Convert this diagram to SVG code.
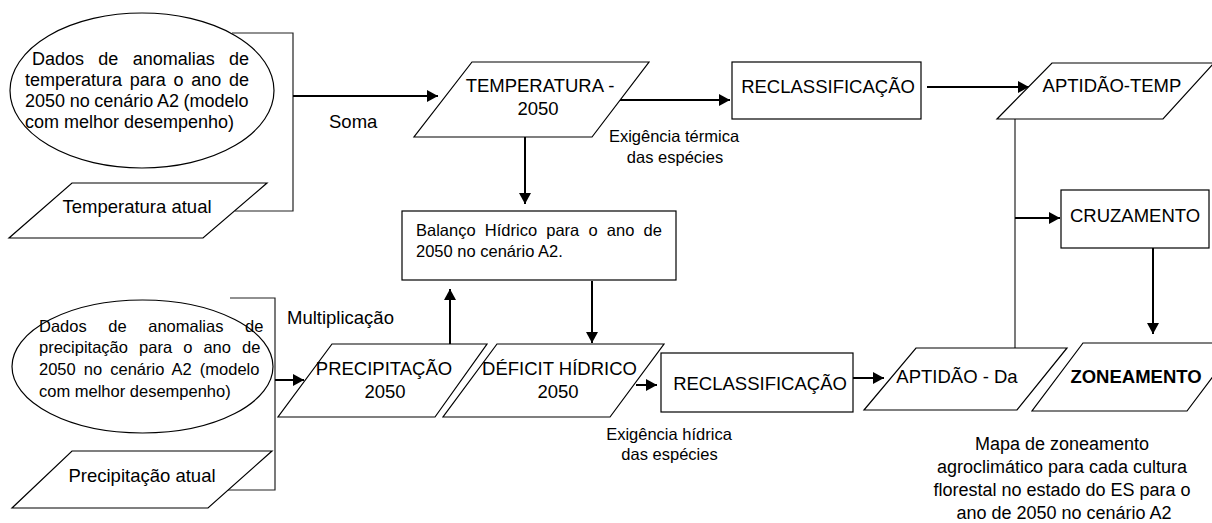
<svg xmlns="http://www.w3.org/2000/svg" width="1212" height="523" viewBox="0 0 1212 523">
<style>
.shape{fill:#fff;stroke:#000;stroke-width:1.2}
.conn{fill:none;stroke:#000;stroke-width:2}
.thin{fill:none;stroke:#222;stroke-width:1.2}
text{font-family:"Liberation Sans",Arial,sans-serif;fill:#000}
.big{font-size:18.5px}
.mid{font-size:18px}
.sm{font-size:16.5px}
.c{text-anchor:middle}
.b{font-weight:bold}
</style>
<defs>
<marker id="ah" markerWidth="11" markerHeight="12" refX="11" refY="6" orient="auto" markerUnits="userSpaceOnUse">
<path d="M0,0 L11,6 L0,12 z" fill="#000"/>
</marker>
</defs>
<rect width="1212" height="523" fill="#fff"/>

<g id="connectors">
<polyline class="thin" points="232,33 293,33 293,211 235,211"/>
<line class="conn" x1="293" y1="96" x2="438" y2="96" marker-end="url(#ah)"/>
<polyline class="thin" points="230,298 275,298 275,490 228,490"/>
<line class="conn" x1="275" y1="380" x2="304" y2="380" marker-end="url(#ah)"/>
<line class="conn" x1="525" y1="137" x2="525" y2="204" marker-end="url(#ah)"/>
<line class="conn" x1="450" y1="344" x2="450" y2="289" marker-end="url(#ah)"/>
<line class="conn" x1="592" y1="281" x2="592" y2="343" marker-end="url(#ah)"/>
<line class="conn" x1="618" y1="100" x2="730" y2="100" marker-end="url(#ah)"/>
<line class="conn" x1="927" y1="87" x2="1029" y2="87" marker-end="url(#ah)"/>
<line class="conn" x1="636" y1="385" x2="657" y2="385" marker-end="url(#ah)"/>
<line class="conn" x1="853" y1="378" x2="884" y2="378" marker-end="url(#ah)"/>
<line class="thin" x1="1015" y1="119" x2="1015" y2="350"/>
<line class="conn" x1="1015" y1="218" x2="1060" y2="218" marker-end="url(#ah)"/>
<line class="conn" x1="1153" y1="245" x2="1153" y2="334" marker-end="url(#ah)"/>
</g>

<g id="lbl-soma"><text class="big" x="329" y="128">Soma</text></g>
<g id="lbl-mult"><text class="big" x="287" y="324">Multiplicação</text></g>
<g id="lbl-termica">
<text class="sm c" x="674" y="142">Exigência térmica</text>
<text class="sm c" x="675" y="163">das espécies</text>
</g>
<g id="lbl-hidrica">
<text class="sm c" x="669" y="440">Exigência hídrica</text>
<text class="sm c" x="669.5" y="460">das espécies</text>
</g>

<g id="anom-temp">
<ellipse class="shape" cx="142" cy="90.5" rx="132" ry="77.5"/>
<text class="mid" x="32" y="65" word-spacing="9.3">Dados de anomalias de</text>
<text class="mid" x="25" y="86" word-spacing="2.7">temperatura para o ano de</text>
<text class="mid" x="25" y="107" word-spacing="-0.4">2050 no cenário A2 (modelo</text>
<text class="mid" x="25" y="128">com melhor desempenho)</text>
</g>

<g id="temp-atual">
<polygon class="shape" points="72,183 267,183 203,238 9,238"/>
<text class="big c" x="137" y="213">Temperatura atual</text>
</g>

<g id="anom-prec">
<ellipse class="shape" cx="142.5" cy="366.5" rx="130.5" ry="66.5"/>
<text class="sm" x="39" y="332" word-spacing="17">Dados de anomalias de</text>
<text class="sm" x="39" y="353" word-spacing="6.5">precipitação para o ano de</text>
<text class="sm" x="39" y="375" word-spacing="3.5">2050 no cenário A2 (modelo</text>
<text class="sm" x="39" y="397">com melhor desempenho)</text>
</g>

<g id="prec-atual">
<polygon class="shape" points="72,451 272,451 208,508 12,508"/>
<text class="big c" x="142" y="482">Precipitação atual</text>
</g>

<g id="temperatura-2050">
<polygon class="shape" points="472,62 649,62 592,137 414,137"/>
<text class="big c" x="540" y="92">TEMPERATURA -</text>
<text class="big c" x="538" y="115">2050</text>
</g>

<g id="balanco">
<rect class="shape" x="402" y="211" width="274" height="69"/>
<text class="sm" x="416" y="236" word-spacing="4.6">Balanço Hídrico para o ano de</text>
<text class="sm" x="416" y="257">2050 no cenário A2.</text>
</g>

<g id="precipitacao-2050">
<polygon class="shape" points="332,344 487,344 435,417 278,417"/>
<text class="big c" x="384" y="375">PRECIPITAÇÃO</text>
<text class="big c" x="385" y="398">2050</text>
</g>

<g id="deficit">
<polygon class="shape" points="497,344 664,344 610,417 443,417"/>
<text class="big c" x="559.5" y="375">DÉFICIT HÍDRICO</text>
<text class="big c" x="558" y="398">2050</text>
</g>

<g id="reclass-temp">
<rect class="shape" x="732" y="62" width="189" height="57"/>
<text class="big c" x="828" y="93">RECLASSIFICAÇÃO</text>
</g>

<g id="reclass-da">
<rect class="shape" x="661" y="353" width="192" height="59"/>
<text class="big c" x="760" y="390">RECLASSIFICAÇÃO</text>
</g>

<g id="aptidao-temp">
<polygon class="shape" points="1052,63 1214,63 1163,119 997,119"/>
<text class="big c" x="1112" y="92">APTIDÃO-TEMP</text>
</g>

<g id="cruzamento">
<rect class="shape" x="1061" y="190" width="148" height="58"/>
<text class="big c" x="1135" y="222">CRUZAMENTO</text>
</g>

<g id="aptidao-da">
<polygon class="shape" points="916,348 1067,348 1017,410 864,410"/>
<text class="big c" x="957" y="383">APTIDÃO - Da</text>
</g>

<g id="zoneamento">
<polygon class="shape" points="1083,343 1238,343 1187,411 1032,411"/>
<text class="big c b" x="1136" y="383">ZONEAMENTO</text>
</g>

<g id="lbl-mapa">
<text class="mid c" x="1062" y="450">Mapa de zoneamento</text>
<text class="mid c" x="1062" y="473">agroclimático para cada cultura</text>
<text class="mid c" x="1062" y="496">florestal no estado do ES para o</text>
<text class="mid c" x="1064" y="519">ano de 2050 no cenário A2</text>
</g>
</svg>
